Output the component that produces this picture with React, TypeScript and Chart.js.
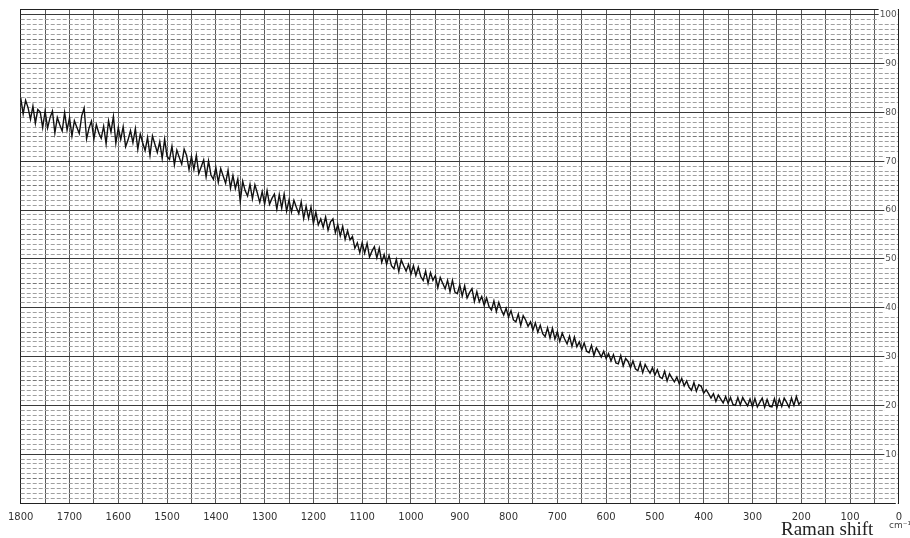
import React, { useEffect, useRef } from "react";
import { Chart, registerables } from "chart.js";

Chart.register(...registerables);

// Raman shift of the first sample and spacing between samples (cm-1)
const ramanShiftStart = 1800;
const ramanShiftStep = 5;

// Intensity, from 1800 cm-1 down to 200 cm-1
const intensity: number[] = [
  // 1800-1755
  83.0, 79.7, 82.5, 81.0, 78.6, 81.3, 77.8, 80.6, 80.1, 76.9,
  // 1750-1705
  80.3, 76.8, 78.9, 80.3, 75.8, 79.0, 77.5, 76.2, 80.0, 76.4,
  // 1700-1655
  78.9, 75.2, 78.3, 77.0, 75.7, 79.3, 80.9, 74.6, 76.8, 78.2,
  // 1650-1605
  74.6, 77.5, 75.8, 74.7, 77.2, 73.6, 78.3, 76.0, 79.2, 73.7,
  // 1600-1555
  76.9, 74.5, 77.1, 73.0, 74.4, 76.3, 73.8, 76.7, 72.5, 75.6,
  // 1550-1505
  73.8, 72.2, 74.9, 71.2, 75.2, 73.5, 71.8, 74.0, 70.6, 74.5,
  // 1500-1455
  71.0, 70.4, 73.1, 69.3, 72.3, 70.8, 69.4, 72.5, 71.2, 68.3,
  // 1450-1405
  71.0, 68.3, 71.2, 67.5, 68.9, 70.3, 66.8, 70.1, 67.2, 66.3,
  // 1400-1355
  68.7, 65.7, 68.5, 67.0, 65.5, 68.2, 64.5, 67.1, 64.4, 66.4,
  // 1350-1305
  61.8, 65.9, 64.0, 62.9, 65.3, 62.3, 65.2, 63.5, 61.6, 63.8,
  // 1300-1255
  61.2, 64.0, 61.2, 62.4, 63.3, 60.2, 63.2, 60.4, 63.3, 59.8,
  // 1250-1205
  62.1, 59.6, 62.0, 60.6, 59.3, 61.7, 58.3, 60.8, 58.3, 60.6,
  // 1200-1155
  57.3, 59.6, 57.0, 58.2, 56.5, 58.6, 55.9, 57.6, 58.2, 55.4,
  // 1150-1105
  57.0, 54.7, 56.7, 54.0, 55.8, 53.9, 54.6, 52.2, 53.3, 51.3,
  // 1100-1055
  53.3, 51.2, 53.2, 50.4, 51.6, 52.5, 50.2, 52.2, 49.3, 50.9,
  // 1050-1005
  48.9, 50.7, 48.6, 48.0, 49.9, 47.4, 49.8, 48.6, 47.5, 48.9,
  // 1000-955
  46.9, 48.6, 46.6, 48.3, 46.4, 45.6, 47.5, 45.0, 47.2, 45.6,
  // 950-905
  46.6, 44.1, 46.2, 45.0, 43.9, 45.6, 43.3, 45.6, 43.2, 42.9,
  // 900-855
  44.7, 42.4, 44.5, 42.0, 43.1, 43.9, 41.3, 43.3, 41.2, 42.3,
  // 850-805
  40.5, 42.0, 40.2, 39.5, 41.4, 39.2, 41.1, 39.6, 38.5, 39.9,
  // 800-755
  38.1, 39.4, 37.5, 37.1, 38.7, 36.4, 38.4, 37.5, 36.2, 37.1,
  // 750-705
  35.4, 36.9, 35.0, 36.4, 34.7, 34.1, 35.9, 33.8, 35.8, 33.6,
  // 700-655
  35.1, 33.1, 34.8, 33.6, 32.6, 34.2, 32.1, 34.0, 32.0, 33.0,
  // 650-605
  31.4, 32.8, 31.1, 30.8, 32.3, 30.2, 31.8, 30.9, 29.9, 31.1,
  // 600-555
  29.6, 30.6, 29.1, 30.4, 28.7, 28.5, 30.2, 28.1, 29.6, 29.0,
  // 550-505
  27.7, 29.1, 27.5, 27.1, 28.7, 26.7, 28.4, 27.4, 26.6, 27.7,
  // 500-455
  26.2, 27.3, 25.8, 25.5, 27.0, 25.0, 26.5, 25.6, 24.8, 25.8,
  // 450-405
  24.4, 25.5, 24.0, 25.0, 23.7, 23.1, 24.7, 22.9, 24.2, 23.9,
  // 400-355
  22.5, 23.2, 22.4, 21.5, 22.4, 20.8, 22.1, 21.3, 20.5, 21.8,
  // 350-305
  20.4, 21.6, 20.2, 20.0, 21.6, 20.1, 21.6, 20.7, 19.9, 21.3,
  // 300-255
  19.7, 21.4, 19.7, 20.6, 21.5, 19.6, 21.2, 19.8, 19.7, 21.4,
  // 250-200
  19.5, 21.3, 19.8, 21.5, 20.6, 19.6, 21.5, 20.0, 21.8, 20.2, 20.8,
];

const xTickLabels = [1800, 1700, 1600, 1500, 1400, 1300, 1200, 1100, 1000, 900, 800, 700, 600, 500, 400, 300, 200, 100, 0];
const yTickLabels = [10, 20, 30, 40, 50, 60, 70, 80, 90, 100];

const xMin = 0;
const xMax = 1800;
const yMin = 0;
const yMax = 101.2;

export default function App() {
  const canvasRef = useRef<HTMLCanvasElement>(null);

  useEffect(() => {
    const canvas = canvasRef.current;
    if (!canvas) return;

    const points = intensity.map((v, i) => ({ x: ramanShiftStart - i * ramanShiftStep, y: v }));

    const textPlugin = {
      id: "ramanText",
      afterDraw(chart: any) {
        const ctx = chart.ctx as CanvasRenderingContext2D;
        ctx.save();
        ctx.fillStyle = "#222";
        ctx.textAlign = "left";
        ctx.textBaseline = "alphabetic";
        ctx.font = '19px "Liberation Serif", "DejaVu Serif", serif';
        ctx.fillText("Raman shift", 781, 535);
        ctx.font = '9px "DejaVu Sans", sans-serif';
        ctx.fillStyle = "#444";
        ctx.fillText("cm⁻¹", 889, 528);
        ctx.restore();
      },
    };

    const chart = new Chart(canvas, {
      type: "line",
      data: {
        datasets: [
          {
            data: points,
            xAxisID: "x",
            yAxisID: "y",
            borderColor: "#111",
            borderWidth: 1.4,
            pointRadius: 0,
            tension: 0,
            fill: false,
          },
        ],
      },
      options: {
        animation: false,
        responsive: false,
        devicePixelRatio: 1,
        parsing: false as any,
        normalized: true,
        layout: { padding: { left: 20, right: 11, top: 9, bottom: 0 } },
        plugins: { legend: { display: false }, tooltip: { enabled: false } },
        scales: {
          x: {
            type: "linear",
            position: "bottom",
            min: xMin,
            max: xMax,
            reverse: true,
            afterFit: (s: any) => {
              s.height = 35;
            },
            ticks: {
              stepSize: 50,
              autoSkip: false,
              maxRotation: 0,
              minRotation: 0,
              includeBounds: false,
              padding: 8,
              color: "#333",
              font: { family: "DejaVu Sans", size: 10 },
              callback: (v: any) => (xTickLabels.includes(Number(v)) ? String(v) : ""),
            },
            grid: {
              drawTicks: false,
              color: (c: any) =>
                c.tick && (c.tick.value === xMin || c.tick.value === xMax) ? "#222" : "#5a5a5a",
              lineWidth: 1,
            },
            border: { color: "#222", width: 1 },
          },
          xTop: {
            type: "linear",
            position: "top",
            min: xMin,
            max: xMax,
            reverse: true,
            afterFit: (s: any) => {
              s.height = 0;
            },
            ticks: { display: false },
            grid: { display: false, drawTicks: false },
            border: { color: "#222", width: 1 },
          },
          yMinor: {
            type: "linear",
            position: "right",
            min: yMin,
            max: yMax,
            afterFit: (s: any) => {
              s.width = 0;
            },
            ticks: { display: false, stepSize: 1, includeBounds: false },
            grid: {
              drawTicks: false,
              color: (c: any) => {
                const v = c.tick ? Math.round(c.tick.value) : 0;
                if (v % 10 === 0) return "rgba(0,0,0,0)";
                if (v % 5 === 0) return "#777";
                return "#a0a0a0";
              },
              lineWidth: 1,
            },
            border: { display: false, dash: [4, 2] },
          },
          y: {
            type: "linear",
            position: "right",
            min: yMin,
            max: yMax,
            afterFit: (s: any) => {
              s.width = 0;
            },
            ticks: {
              stepSize: 10,
              includeBounds: false,
              mirror: true,
              padding: -2,
              color: "#555",
              font: { family: "DejaVu Sans", size: 9 },
              showLabelBackdrop: true,
              backdropColor: "#fff",
              backdropPadding: 1,
              callback: (v: any) => (yTickLabels.includes(Number(v)) ? String(v) : ""),
            },
            grid: { drawTicks: false, color: "#3a3a3a", lineWidth: 1 },
            border: { color: "#222", width: 1 },
          },
        },
      },
      plugins: [textPlugin],
    } as any);

    return () => chart.destroy();
  }, []);

  return (
    <div style={{ position: "absolute", left: 0, top: 0, width: 910, height: 538, background: "#fff" }}>
      <canvas ref={canvasRef} width={910} height={538} style={{ display: "block" }} />
    </div>
  );
}
